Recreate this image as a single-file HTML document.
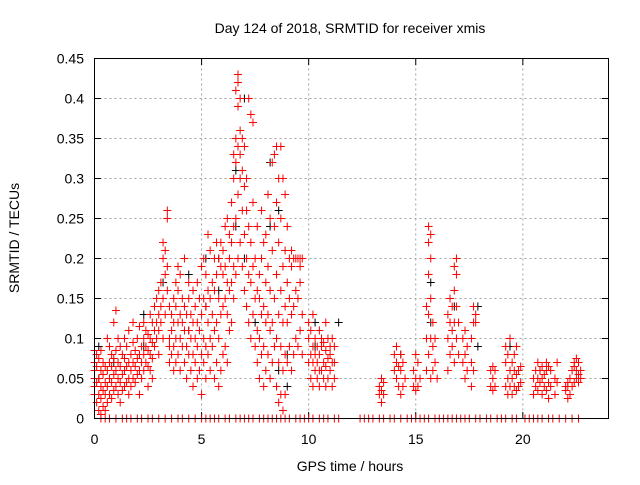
<!DOCTYPE html>
<html><head><meta charset="utf-8"><style>
body{margin:0;background:#fff}
svg text{font-family:"Liberation Sans",sans-serif;font-size:14px;fill:#000}
</style></head><body>
<svg id="chart" width="640" height="480" xmlns="http://www.w3.org/2000/svg">
<rect width="640" height="480" fill="#fff"/>
<text x="350" y="33" text-anchor="middle">Day 124 of 2018, SRMTID for receiver xmis</text>
<text transform="translate(19,238) rotate(-90)" text-anchor="middle">SRMTID / TECUs</text>
<text x="350" y="471" text-anchor="middle">GPS time / hours</text>
<g id="grid"></g><g id="ticks"></g>
<g id="blk" stroke="#000" stroke-width="1"></g>
<g id="red" stroke="#f00" stroke-width="1"></g>
<rect x="94.5" y="58.5" width="514" height="360" fill="none" stroke="#000"/>
</svg>
<script>
const xTicks=[0,5,10,15,20];
const yTicks=[0,0.05,0.1,0.15,0.2,0.25,0.3,0.35,0.4,0.45];
const yTickLabels=["0","0.05","0.1","0.15","0.2","0.25","0.3","0.35","0.4","0.45"];
const redTimes=[0,0.1,0.2,0.3,0.4,0.5,0.6,0.7,0.8,0.9,1,1.1,1.2,1.3,1.4,1.5,1.6,1.7,1.8,1.9,2,2.1,2.2,2.3,2.4,2.5,2.6,2.7,2.8,2.9,3,3.1,3.2,3.3,3.4,3.5,3.6,3.7,3.8,3.9,4,4.1,4.2,4.3,4.4,4.5,4.6,4.7,4.8,4.9,5,5.1,5.2,5.3,5.4,5.5,5.6,5.7,5.8,5.9,6,6.1,6.2,6.3,6.4,6.5,6.6,6.7,6.8,6.9,7,7.1,7.2,7.3,7.4,7.5,7.6,7.7,7.8,7.9,8,8.1,8.2,8.3,8.4,8.5,8.6,8.7,8.8,8.9,9,9.1,9.2,9.3,9.4,9.5,9.6,9.7,10,10.1,10.2,10.3,10.4,10.5,10.6,10.7,10.8,10.9,11,11.1,11.2,13.3,13.4,13.5,14,14.1,14.2,14.3,14.4,14.5,14.9,15,15.1,15.2,15.5,15.6,15.7,15.8,15.9,16,16.5,16.6,16.7,16.8,16.9,17,17.2,17.3,17.4,17.6,17.7,17.8,18.5,18.6,18.7,19.2,19.3,19.4,19.5,19.6,19.7,19.8,19.9,20.5,20.6,20.7,20.8,20.9,21,21.1,21.2,21.3,21.5,21.6,22,22.1,22.2,22.3,22.4,22.5,22.6,22.7];
const redValues=[[.085,.07,.06,.05,.04,.03],[.02,.045,.065,.08],[.01,.03,.05,.075],[.005,.025,.04,.06,.085],[.015,.035,.055,.07],[.01,.03,.045,.065],[.02,.04,.06,.1],[.03,.05,.07,.09],[.025,.045,.065,.08],[.035,.055,.075,.12],[.04,.06,.085,.135],[.03,.05,.07,.1],[.02,.045,.065,.09],[.035,.055,.08],[.04,.06,.075,.1],[.045,.065,.09],[.03,.05,.07,.11],[.04,.06,.08],[.05,.07,.095,.12],[.045,.065,.085],[.055,.075,.1],[.03,.06,.08,.115],[.05,.07,.09],[.06,.08,.1,.12],[.07,.09,.11],[.04,.065,.085,.105],[.06,.08,.1,.13],[.05,.075,.095,.12],[.09,.11,.14],[.1,.12,.15],[.11,.13,.16,.08],[.12,.14,.17],[.1,.15,.2,.22],[.13,.18,.21],[.16,.26,.25,.19],[.07,.1,.14,.09],[.08,.11,.13],[.06,.09,.12,.15],[.07,.1,.14,.17],[.08,.12,.16,.19],[.06,.1,.13,.18],[.09,.12,.15],[.07,.11,.14,.2],[.05,.09,.13],[.08,.11,.15,.17],[.06,.1,.13],[.04,.08,.12,.16],[.07,.1,.14],[.05,.09,.12,.17],[.06,.11,.15],[.03,.08,.13,.19],[.07,.1,.15,.2],[.05,.09,.14,.18],[.08,.12,.16,.23],[.06,.1,.15,.21],[.09,.13,.17],[.05,.11,.16,.2],[.07,.12,.18,.22],[.04,.1,.15,.2],[.06,.13,.19,.22],[.08,.14,.18,.21],[.09,.15,.19,.24],[.07,.13,.17,.25],[.11,.16,.2,.23],[.12,.17,.22,.27],[.15,.19,.24,.3,.33],[.18,.25,.32,.35,.41],[.2,.28,.34,.39,.43,.42],[.22,.3,.33,.36,.4],[.19,.26,.31,.35],[.16,.23,.29,.34],[.14,.2,.26,.3],[.12,.18,.24,.4],[.1,.17,.22,.38],[.13,.19,.27,.37],[.09,.15,.2],[.07,.11,.16,.24],[.05,.1,.15,.18],[.08,.13,.2,.26],[.04,.09,.14,.22],[.06,.12,.17,.23],[.08,.13,.19,.28],[.05,.11,.16,.25],[.07,.12,.21,.32],[.09,.15,.24,.33],[.04,.1,.18,.27,.34],[.02,.07,.13,.22,.3],[.03,.09,.16,.25,.34],[.01,.06,.12,.19,.3],[.03,.08,.14,.21,.28],[.07,.12,.17,.24],[.09,.15,.2],[.06,.13,.19,.21],[.08,.14,.2],[.1,.16,.2],[.09,.15,.2],[.11,.17,.2,.19],[.08,.13,.2],[.07,.1,.12],[.05,.08,.11],[.04,.07,.09,.13],[.06,.08,.1],[.05,.07,.09],[.04,.06,.08,.11],[.06,.09,.1],[.05,.07,.095],[.04,.065,.085,.12],[.05,.075,.1],[.06,.08,.09],[.04,.07,.1],[.05,.07,.09],[.03,.04],[.02,.035,.05],[.03,.045],[.06,.08],[.05,.07,.09],[.04,.065],[.03,.06,.08],[.04,.07],[.05],[.04,.06],[.035,.05,.08],[.04,.07],[.05],[.06,.1,.14],[.08,.13,.18,.22,.24],[.05,.1,.15,.2,.23],[.06,.09,.12],[.07,.1],[.05],[.06,.1,.13],[.08,.12,.15],[.09,.11,.14],[.07,.12,.16,.19],[.1,.14,.2,.18],[.08,.12],[.07,.1],[.05,.08,.11],[.06,.09],[.04,.07,.1],[.06,.12,.14],[.12,.13],[.04,.06],[.035,.05,.065],[.04,.06],[.04,.07,.09],[.03,.05,.08],[.04,.06,.1],[.03,.05,.07],[.04,.06,.08],[.035,.055,.09],[.04,.06],[.045,.065],[.03,.05],[.04,.06],[.035,.05,.07],[.045,.06],[.03,.05,.065],[.04,.055],[.035,.06,.07],[.025,.045,.065],[.04,.06],[.03,.05],[.045,.07],[.035,.04],[.025,.04,.045],[.03,.05],[.04,.06],[.045,.065,.07],[.05,.06,.075],[.045,.055,.07],[.05,.06]];
const blackTimes=[0.2,0.9,2.3,3.2,4.4,5.2,5.8,6.6,7.0,7.5,8.2,8.6,9.0,10.3,11.4,14.3,15.7,16.8,17.9,19.4,20.8,22.6];
const blackValues=[[.05,.09],[.07],[.09,.13],[.17],[.11,.18],[.2,.14],[.16,.2],[.31,.24],[.4,.2],[.12],[.32,.24],[.26,.06],[.04,.08],[.12,.09],[.12],[.08],[.17,.12],[.14],[.14,.09],[.09],[.06],[.07]];
const zeroTimes=[0.3,0.5,0.7,1.0,1.3,1.5,1.7,2.0,2.2,2.5,2.7,3.0,3.3,3.6,3.9,4.1,4.4,4.7,5.0,5.2,5.4,5.6,5.8,6.1,6.3,6.6,6.8,7.0,7.2,7.4,7.7,7.9,8.1,8.3,8.5,8.7,8.9,9.1,9.4,9.6,9.8,10.0,10.2,10.5,10.7,10.9,11.2,11.4,12.4,12.6,12.8,13.0,13.3,13.5,13.8,14.0,14.3,14.6,14.8,15.0,15.2,15.4,15.6,15.9,16.1,16.3,16.5,16.7,16.9,17.1,17.3,17.5,17.8,18.0,18.3,18.5,18.8,19.0,19.2,19.5,19.7,20.1,20.3,20.5,20.7,20.9,21.2,21.4,21.7,22.0,22.3,22.6];
const X=t=>94.5+t*514/24, Y=v=>418.5-v*800;
const NS="http://www.w3.org/2000/svg";
function mk(tag,attrs,parent){const e=document.createElementNS(NS,tag);for(const k in attrs)e.setAttribute(k,attrs[k]);document.getElementById(parent).appendChild(e);return e;}
xTicks.forEach(t=>{
 const x=X(t);
 if(t>0){const g=mk('line',{x1:x,y1:58.5,x2:x,y2:418.5,stroke:'#a0a0a0','stroke-dasharray':'2,3'},'grid');
 
 }
 mk('line',{x1:x,y1:418.5,x2:x,y2:412,stroke:'#000'},'ticks');
 mk('line',{x1:x,y1:58.5,x2:x,y2:65,stroke:'#000'},'ticks');
 const l=mk('text',{x:x,y:444,'text-anchor':'middle'},'ticks');l.textContent=t;
 
 
});
yTicks.forEach((v,i)=>{
 const y=Y(v);
 if(v>0&&v<0.45){const g=mk('line',{x1:94.5,y1:y,x2:608.5,y2:y,stroke:'#a0a0a0','stroke-dasharray':'2,3'},'grid');
 
 }
 mk('line',{x1:94.5,y1:y,x2:101,y2:y,stroke:'#000'},'ticks');
 mk('line',{x1:608.5,y1:y,x2:602,y2:y,stroke:'#000'},'ticks');
 const l=mk('text',{x:84,y:y+5,'text-anchor':'end'},'ticks');l.textContent=yTickLabels[i];
 
 
});
function plus(t,v,g){const x=X(t),y=Y(v);
 const p=mk('path',{d:`M${x-4},${y}h8M${x},${y-4}v8`},g);
 
 }
blackTimes.forEach((t,i)=>blackValues[i].forEach(v=>plus(t,v,'blk')));
redTimes.forEach((t,i)=>redValues[i].forEach(v=>plus(t,v,'red')));
zeroTimes.forEach(t=>plus(t,0,'red'));
</script>
</body></html>
